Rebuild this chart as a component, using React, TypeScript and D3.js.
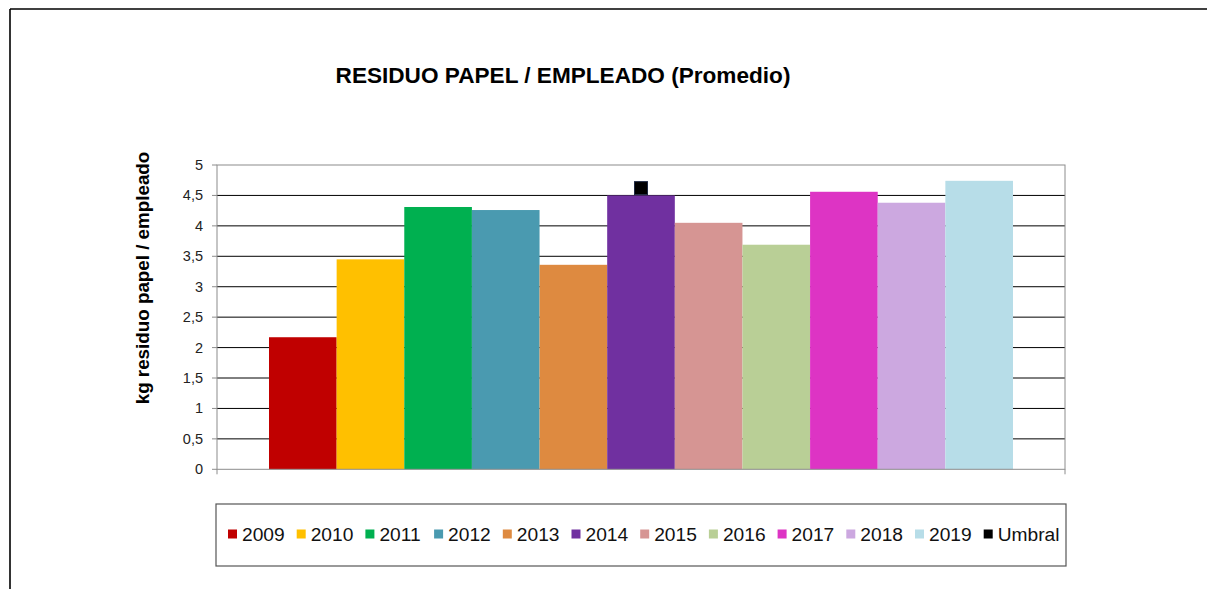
import React from "react";
import * as d3 from "d3";

// Data
const years = ["2009", "2010", "2011", "2012", "2013", "2014", "2015", "2016", "2017", "2018", "2019"];
const values = [2.17, 3.45, 4.31, 4.26, 3.36, 4.5, 4.05, 3.69, 4.56, 4.38, 4.74];
const colors = [
  "#C00000", "#FFC000", "#00B050", "#4A9AB0", "#DE8A40", "#7030A0",
  "#D69593", "#B9CF96", "#DD34C4", "#CCA8E0", "#B7DDE8",
];
const umbralValue = 4.62;
const yTicks = [0, 0.5, 1, 1.5, 2, 2.5, 3, 3.5, 4, 4.5, 5];
const legendLabels = [...years, "Umbral"];
const legendColors = [...colors, "#000000"];

const W = 1207;
const H = 589;
const font = "Liberation Sans, Arial, sans-serif";

const App: React.FC = () => {
  const margin = { top: 165, left: 217, right: 1065, bottom: 469.3 };

  // single category, bars of each year side by side
  const x0 = d3.scaleBand<string>()
    .domain(["Promedio"])
    .range([margin.left, margin.right])
    .paddingInner(0)
    .paddingOuter(0.0699);
  const x1 = d3.scaleBand<string>()
    .domain(years)
    .range([0, x0.bandwidth()])
    .padding(0);
  const y = d3.scaleLinear().domain([0, 5]).range([margin.bottom, margin.top]);

  const fmt = (v: number) => String(v).replace(".", ",");
  const cx = (x0("Promedio") ?? 0) + x0.bandwidth() / 2;

  const legendX = d3.scaleBand<string>()
    .domain(legendLabels)
    .range([228, 228 + 12 * 68.7]);

  return (
    <svg width={W} height={H} style={{ position: "absolute", left: 0, top: 0, background: "#fff" }}>
      {/* outer frame */}
      <line x1={10} y1={9} x2={W} y2={9} stroke="#000" strokeWidth={1.6} />
      <line x1={10} y1={9} x2={10} y2={H} stroke="#000" strokeWidth={1.6} />

      <text x={563} y={83} textAnchor="middle" fontFamily={font} fontWeight="bold" fontSize={22.6}>
        RESIDUO PAPEL / EMPLEADO (Promedio)
      </text>

      {/* gridlines */}
      {yTicks.slice(1, -1).map((t) => (
        <line key={t} x1={margin.left} x2={margin.right} y1={y(t)} y2={y(t)} stroke="#000" strokeWidth={1} />
      ))}

      {/* bars */}
      {years.map((yr, i) => (
        <rect
          key={yr}
          x={(x0("Promedio") ?? 0) + (x1(yr) ?? 0)}
          y={y(values[i])}
          width={x1.bandwidth()}
          height={margin.bottom - y(values[i])}
          fill={colors[i]}
        />
      ))}

      {/* plot area border / axes */}
      <rect
        x={margin.left}
        y={margin.top}
        width={margin.right - margin.left}
        height={margin.bottom - margin.top}
        fill="none"
        stroke="#8c8c8c"
        strokeWidth={1}
      />
      {yTicks.map((t) => (
        <g key={t}>
          <line x1={margin.left - 5} x2={margin.left} y1={y(t)} y2={y(t)} stroke="#8c8c8c" />
          <text x={203} y={y(t) + 5} textAnchor="end" fontFamily={font} fontSize={14.5} fill="#222">
            {fmt(t)}
          </text>
        </g>
      ))}
      <line x1={margin.left} x2={margin.left} y1={margin.bottom} y2={margin.bottom + 5} stroke="#8c8c8c" />
      <line x1={margin.right} x2={margin.right} y1={margin.bottom} y2={margin.bottom + 5} stroke="#8c8c8c" />

      {/* umbral marker */}
      <rect x={cx - 6.5} y={y(umbralValue) - 6.5} width={13} height={13} fill="#000" stroke="#1f2a44" strokeWidth={1} />

      <text
        transform={`translate(149,278) rotate(-90)`}
        textAnchor="middle"
        fontFamily={font}
        fontWeight="bold"
        fontSize={18.8}
      >
        kg residuo papel / empleado
      </text>

      {/* legend */}
      <rect x={216} y={504} width={850} height={62} fill="#fff" stroke="#555" strokeWidth={1.2} />
      {legendLabels.map((lab, i) => {
        const lx = legendX(lab) ?? 0;
        return (
          <g key={lab}>
            <rect x={lx} y={529.5} width={9} height={9} fill={legendColors[i]} />
            <text x={lx + 14} y={541} fontFamily={font} fontSize={19.2} fill="#111">
              {lab}
            </text>
          </g>
        );
      })}
    </svg>
  );
};

export default App;
